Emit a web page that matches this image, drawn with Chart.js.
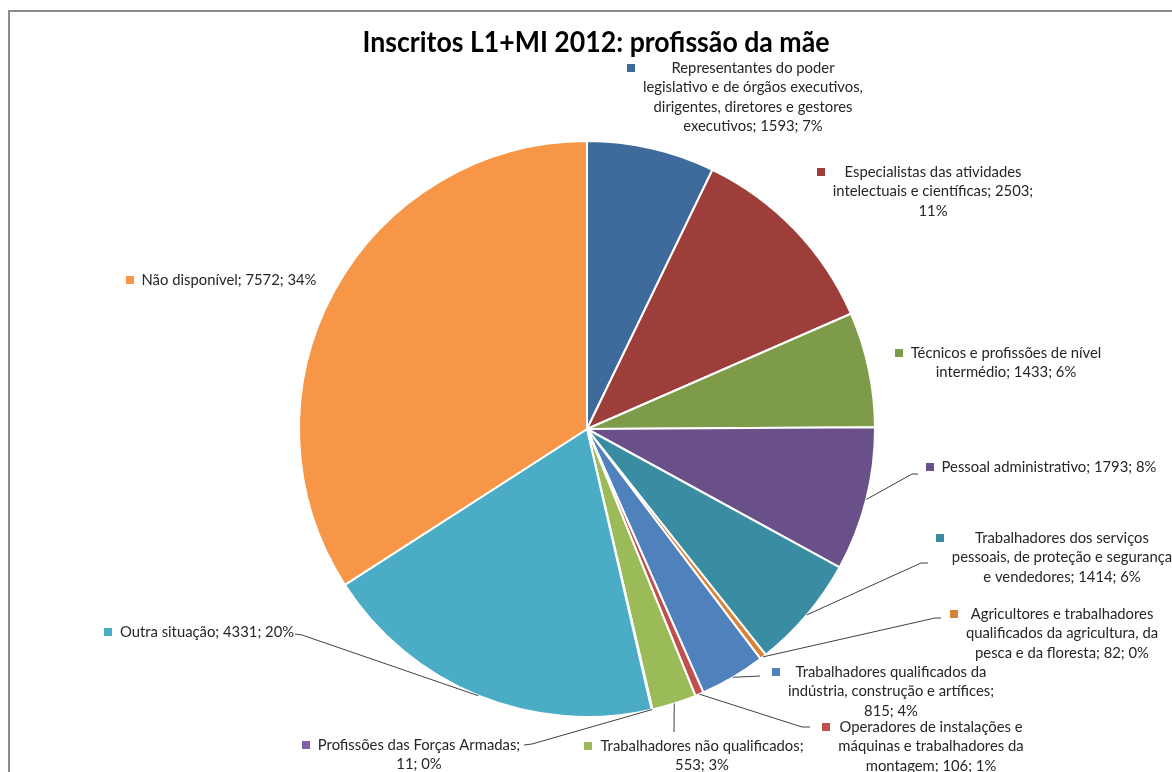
<!DOCTYPE html>
<html>
<head>
<meta charset="utf-8">
<script src="https://cdn.jsdelivr.net/npm/chart.js@4.4.1/dist/chart.umd.min.js"></script>
<style>
  body { margin: 0; background: #fff; }
  #wrap { width: 1172px; height: 772px; }
</style>
</head>
<body>
<div id="wrap"><canvas id="maeChart" width="1172" height="772"></canvas></div>
<script>
var chartTitle = 'Inscritos L1+MI 2012: profissão da mãe';

var categories = [
  'Representantes do poder legislativo e de órgãos executivos, dirigentes, diretores e gestores executivos',
  'Especialistas das atividades intelectuais e científicas',
  'Técnicos e profissões de nível intermédio',
  'Pessoal administrativo',
  'Trabalhadores dos serviços pessoais, de proteção e segurança e vendedores',
  'Agricultores e trabalhadores qualificados da agricultura, da pesca e da floresta',
  'Trabalhadores qualificados da indústria, construção e artífices',
  'Operadores de instalações e máquinas e trabalhadores da montagem',
  'Trabalhadores não qualificados',
  'Profissões das Forças Armadas',
  'Outra situação',
  'Não disponível'
];
var values = [1593, 2503, 1433, 1793, 1414, 82, 815, 106, 553, 11, 4331, 7572];
var percents = [7, 11, 6, 8, 6, 0, 4, 1, 3, 0, 20, 34];

var sliceColors = [
  '#3F6A9C', '#9E3E3B', '#7E9B4A', '#6A5088', '#3A8CA2', '#D9823A',
  '#4F81BD', '#C0504D', '#9BBB59', '#8064A2', '#4BACC6', '#F79646'
];

// where each data label sits (text centre x, first line y, wrap width) and its leader line
var labelPos = [
  { x: 753, y: 68, wrap: 228 },
  { x: 933, y: 172, wrap: 210 },
  { x: 1006, y: 353, wrap: 200 },
  { x: 1049, y: 467, wrap: 240, lead: [[912, 474], [918, 474]] },
  { x: 1062, y: 538, wrap: 226, lead: [[921, 563], [928, 563]] },
  { x: 1062, y: 614, wrap: 200, lead: [[935, 618], [941, 618]] },
  { x: 891, y: 672, wrap: 225, lead: [[760, 676]] },
  { x: 931, y: 727, wrap: 198, lead: [[802, 727], [810, 727]] },
  { x: 702, y: 746, wrap: 215, lead: [[674, 732]] },
  { x: 419, y: 745, wrap: 210, lead: [[532, 744], [524, 745]] },
  { x: 207, y: 632, wrap: 200, lead: [[302, 635], [295, 634]] },
  { x: 229, y: 280, wrap: 200 }
];

var lineGap = 19.4;
var labelFont = 'Lato, "Open Sans", sans-serif';

function wrapText(ctx, text, maxW) {
  var words = text.split(' ');
  var lines = [];
  var cur = '';
  for (var i = 0; i < words.length; i++) {
    var test = cur ? cur + ' ' + words[i] : words[i];
    if (cur && ctx.measureText(test).width > maxW) {
      lines.push(cur);
      cur = words[i];
    } else {
      cur = test;
    }
  }
  if (cur) lines.push(cur);
  return lines;
}

var decorPlugin = {
  id: 'decor',
  afterDraw: function (chart) {
    var ctx = chart.ctx;
    ctx.save();

    // outer frame (only top and left are visible)
    ctx.strokeStyle = '#8C8C8C';
    ctx.lineWidth = 2;
    ctx.beginPath();
    ctx.moveTo(9, 772);
    ctx.lineTo(9, 11);
    ctx.lineTo(1172, 11);
    ctx.stroke();

    // title, squeezed to the reference width
    ctx.fillStyle = '#000';
    ctx.font = 'bold 29px Lato, sans-serif';
    ctx.textBaseline = 'alphabetic';
    ctx.textAlign = 'center';
    var tw = ctx.measureText(chartTitle).width;
    ctx.save();
    ctx.translate(596, 52);
    ctx.scale(467 / tw, 1);
    ctx.fillText(chartTitle, 0, 0);
    ctx.restore();

    // label font fitted to the reference width of one label
    ctx.font = '14px ' + labelFont;
    var probe = ctx.measureText('Pessoal administrativo; 1793; 8%').width;
    var fs = 14 * 215 / probe;
    ctx.font = fs + 'px ' + labelFont;

    var arcs = chart.getDatasetMeta(0).data;
    for (var i = 0; i < arcs.length; i++) {
      var p = labelPos[i];
      var a = arcs[i].getProps(['x', 'y', 'startAngle', 'endAngle', 'outerRadius'], true);

      if (p.lead) {
        var mid = (a.startAngle + a.endAngle) / 2;
        ctx.strokeStyle = '#404040';
        ctx.lineWidth = 1;
        ctx.beginPath();
        ctx.moveTo(a.x + Math.cos(mid) * a.outerRadius, a.y + Math.sin(mid) * a.outerRadius);
        p.lead.forEach(function (pt) { ctx.lineTo(pt[0], pt[1]); });
        ctx.stroke();
      }

      var text = categories[i] + '; ' + values[i] + '; ' + percents[i] + '%';
      var lines = wrapText(ctx, text, p.wrap);
      var left = Infinity;
      ctx.fillStyle = '#262626';
      ctx.textAlign = 'center';
      ctx.textBaseline = 'middle';
      lines.forEach(function (ln, k) {
        var w = ctx.measureText(ln).width;
        left = Math.min(left, p.x - w / 2);
        ctx.fillText(ln, p.x, p.y + k * lineGap);
      });
      ctx.fillStyle = sliceColors[i];
      ctx.fillRect(Math.round(left - 16), Math.round(p.y - 4), 8, 8);
    }
    ctx.restore();
  }
};

var ctx = document.getElementById('maeChart');
var maeChart = new Chart(ctx, {
  type: 'pie',
  data: {
    labels: categories,
    datasets: [{
      data: values,
      backgroundColor: sliceColors,
      borderColor: '#FFFFFF',
      borderWidth: 2,
      hoverOffset: 0,
      radius: 288
    }]
  },
  options: {
    responsive: false,
    animation: false,
    layout: { padding: { left: 300, right: 298, top: 142, bottom: 56 } },
    plugins: {
      legend: { display: false },
      tooltip: { enabled: false }
    }
  },
  plugins: [decorPlugin]
});
</script>
</body>
</html>
